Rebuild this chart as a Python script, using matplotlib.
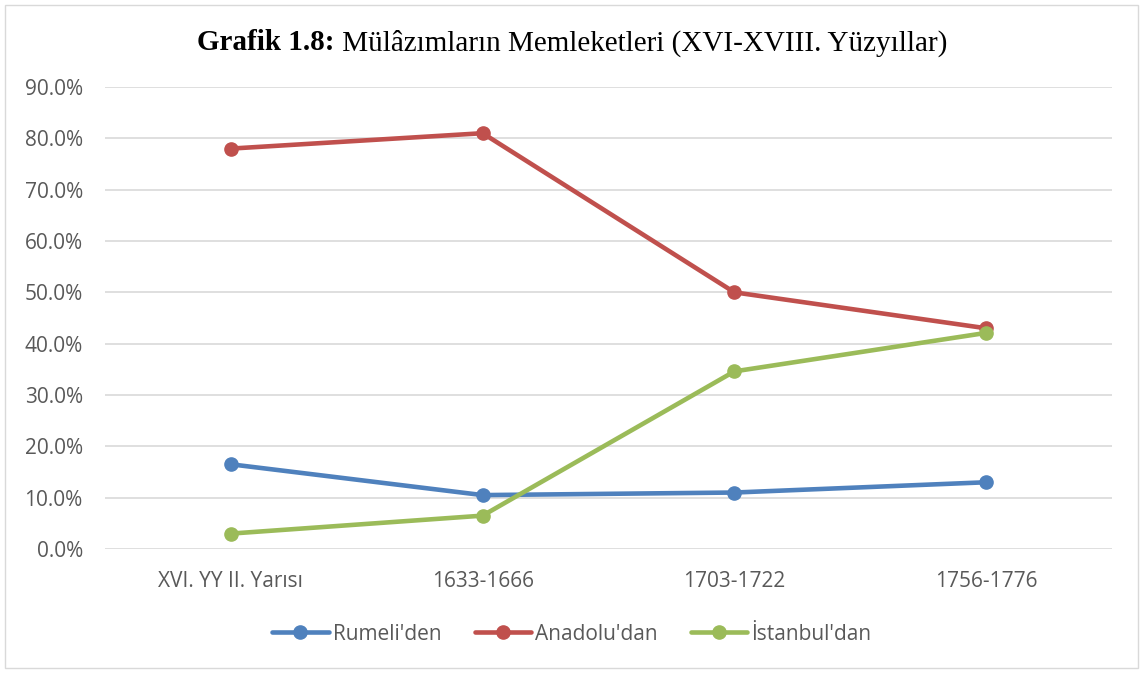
import numpy as np
import matplotlib
matplotlib.use('Agg')
import matplotlib.pyplot as plt
from matplotlib.patches import Rectangle
from matplotlib.ticker import PercentFormatter

categories = ["XVI. YY II. Yarısı", "1633-1666", "1703-1722", "1756-1776"]
rumeli = [16.5, 10.5, 11.0, 13.0]
anadolu = [78.0, 81.0, 50.0, 43.0]
istanbul = [3.0, 6.5, 34.6, 42.1]
series = [("Rumeli'den", rumeli, "#4F81BD"),
          ("Anadolu'dan", anadolu, "#C0504D"),
          ("İstanbul'dan", istanbul, "#9BBB59")]

W, H = 1144, 675
fig = plt.figure(figsize=(W / 100, H / 100), dpi=100)
ax = fig.add_axes([105 / W, 1 - 549 / H, (1112 - 105) / W, (549 - 87) / H])

x = np.arange(len(categories))
for name, vals, col in series:
    ax.plot(x, vals, "-o", color=col, lw=3.3, ms=9.5, label=name,
            solid_capstyle='round')

ax.set_xlim(-0.5, len(categories) - 0.5)
ax.set_ylim(0, 90)
ax.set_yticks(np.arange(0, 91, 10))
ax.yaxis.set_major_formatter(PercentFormatter(decimals=1))
ax.set_xticks(x)
ax.set_xticklabels(categories)
ax.grid(axis='y', color='#D9D9D9', lw=1.2)
ax.set_axisbelow(True)
for s in ax.spines.values():
    s.set_visible(False)
ax.tick_params(length=0, labelsize=15, labelcolor='#595959', pad=16)
for lab in ax.get_xticklabels() + ax.get_yticklabels():
    lab.set_family('Open Sans')

leg = fig.legend(loc='center', bbox_to_anchor=(0.5, 1 - 634 / H), ncol=3,
                 frameon=False, handlelength=2.7, handletextpad=0.2,
                 columnspacing=1.6, prop={'family': 'Open Sans', 'size': 15})
for t in leg.get_texts():
    t.set_color('#595959')

# title: bold part + normal part, centred together
fig.canvas.draw()
r = fig.canvas.get_renderer()
t1 = fig.text(0, 1 - 43 / H, "Grafik 1.8:", family='Liberation Serif',
              weight='bold', size=21, va='center')
t2 = fig.text(0, 1 - 43 / H, " Mülâzımların Memleketleri (XVI-XVIII. Yüzyıllar)",
              family='Liberation Serif', size=21, va='center')
w1 = t1.get_window_extent(r).width
w2 = t2.get_window_extent(r).width
x0 = (572 - (w1 + w2) / 2)
t1.set_x(x0 / W)
t2.set_x((x0 + w1) / W)

fig.patches.append(Rectangle((5 / W, 1 - 668 / H), (1138 - 5) / W, (668 - 5) / H,
                             transform=fig.transFigure, fill=False,
                             edgecolor='#D9D9D9', lw=1))

fig.savefig('out.png', dpi=100)
